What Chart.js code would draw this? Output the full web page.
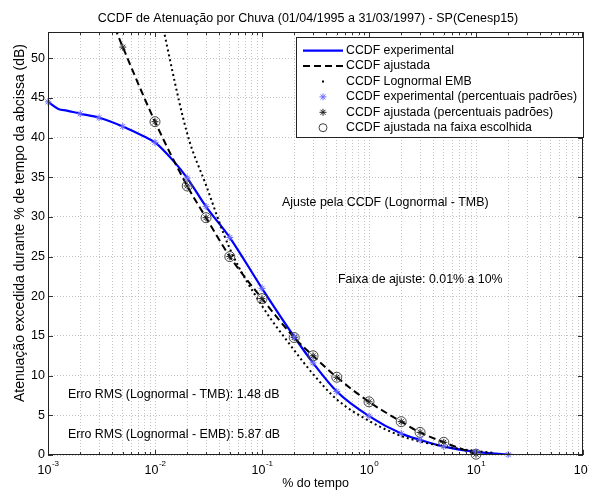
<!DOCTYPE html>
<html>
<head>
<meta charset="utf-8">
<script src="https://cdn.jsdelivr.net/npm/chart.js@4.4.1/dist/chart.umd.min.js"></script>
<style>
  html, body { margin: 0; padding: 0; background: #fff; }
  #wrap { width: 589px; height: 494px; }
</style>
</head>
<body>
<div id="wrap"><canvas id="ccdf" width="589" height="494"></canvas></div>
<script>
/* CCDF de atenuação - dados (percentual do tempo x atenuação em dB) */
// curva experimental
let expPct = [0.001, 0.00125, 0.0015, 0.002, 0.003, 0.005, 0.008, 0.01, 0.015, 0.02, 0.03, 0.05, 0.1, 0.2, 0.3, 0.5, 1, 2, 3, 5, 10, 20, 22.3];
let expAtt = [44.5, 43.6, 43.4, 43.0, 42.5, 41.4, 40.1, 39.4, 37.0, 34.9, 31.3, 27.4, 21.0, 14.9, 11.6, 8.0, 4.9, 2.7, 1.9, 1.05, 0.4, 0.05, 0];

// percentuais padrões
let stdPct = [0.001, 0.002, 0.003, 0.005, 0.01, 0.02, 0.03, 0.05, 0.1, 0.2, 0.3, 0.5, 1, 2, 3, 5, 10, 20];
let expStd = [44.5, 43.0, 42.5, 41.4, 39.4, 34.9, 31.3, 27.4, 21.0, 14.9, 11.6, 8.0, 4.9, 2.7, 1.9, 1.05, 0.4, 0.05];

// CCDF ajustada (lognormal - TMB)
let fitPct = [0.003, 0.004, 0.005, 0.01, 0.02, 0.03, 0.05, 0.1, 0.2, 0.3, 0.5, 1, 2, 3, 5, 10];
let fitAtt = [59.0, 54.6, 51.4, 42.0, 33.9, 29.9, 25.0, 19.7, 14.8, 12.5, 9.8, 6.7, 4.2, 2.85, 1.6, 0.1];

// CCDF lognormal EMB
let embPct = [0.008, 0.01, 0.02, 0.03, 0.05, 0.1, 0.2, 0.3, 0.5, 1, 2, 3, 5, 10, 15];
let embAtt = [64.0, 58.5, 40.5, 34.0, 26.0, 18.8, 13.2, 10.2, 7.0, 4.3, 2.4, 1.7, 1.1, 0.5, 0.25];

// faixa de ajuste escolhida
let faixa = [0.01, 10];

let xTicks = [];
for (let e = -3; e <= 1; e++) {
  for (let m = 1; m <= 9; m++) xTicks.push(m * Math.pow(10, e));
}
xTicks.push(100);
let yTicks = [0, 5, 10, 15, 20, 25, 30, 35, 40, 45, 50];
let yMax = 53.3;

const FONT = "'Liberation Sans', Arial, Helvetica, sans-serif";

function pts(xs, ys) {
  return xs.map((x, i) => ({ x: x, y: ys[i] }));
}

let fitStd = stdPct.filter(p => fitPct.includes(p) && p >= 0.005)
  .map(p => ({ x: p, y: fitAtt[fitPct.indexOf(p)] }));
let fitFaixa = fitPct.filter(p => p >= faixa[0] && p <= faixa[1])
  .map(p => ({ x: p, y: fitAtt[fitPct.indexOf(p)] }));

//-----------------------------------------------//
/* eixos, textos e legenda desenhados à mão */
//-----------------------------------------------//
const decor = {
  id: 'decor',
  afterDraw(chart) {
    const ctx = chart.ctx;
    const a = chart.chartArea;
    const xs = chart.scales.x, ys = chart.scales.y;
    ctx.save();

    // marcas dos eixos (para dentro)
    ctx.strokeStyle = '#333';
    ctx.lineWidth = 1;
    ctx.beginPath();
    xTicks.forEach(v => {
      const px = Math.round(xs.getPixelForValue(v)) + 0.5;
      const major = Math.abs(Math.log10(v) - Math.round(Math.log10(v))) < 1e-9;
      const len = major ? 5 : 3;
      ctx.moveTo(px, a.bottom); ctx.lineTo(px, a.bottom - len);
      ctx.moveTo(px, a.top); ctx.lineTo(px, a.top + len);
    });
    yTicks.forEach(v => {
      const py = Math.round(ys.getPixelForValue(v)) + 0.5;
      ctx.moveTo(a.left, py); ctx.lineTo(a.left + 5, py);
      ctx.moveTo(a.right, py); ctx.lineTo(a.right - 5, py);
    });
    ctx.stroke();

    // caixa
    ctx.strokeStyle = '#222';
    ctx.strokeRect(a.left + 0.5, a.top + 0.5, a.right - a.left - 1, a.bottom - a.top - 1);

    ctx.fillStyle = '#000';
    // rótulos do eixo y
    ctx.font = '12.5px ' + FONT;
    ctx.textAlign = 'right';
    ctx.textBaseline = 'middle';
    yTicks.forEach(v => ctx.fillText(String(v), a.left - 3, ys.getPixelForValue(v)));

    // rótulos do eixo x (10 com expoente)
    for (let e = -3; e <= 2; e++) {
      const px = xs.getPixelForValue(Math.pow(10, e));
      ctx.font = '12.5px ' + FONT;
      const wb = ctx.measureText('10').width;
      ctx.font = '8px ' + FONT;
      const we = ctx.measureText(String(e)).width;
      const x0 = px - (wb + we) / 2;
      ctx.textAlign = 'left';
      ctx.font = '12.5px ' + FONT;
      ctx.fillText('10', x0, a.bottom + 16);
      ctx.font = '8px ' + FONT;
      ctx.fillText(String(e), x0 + wb + 0.5, a.bottom + 9);
    }

    // títulos
    ctx.font = '12.5px ' + FONT;
    ctx.textAlign = 'center';
    ctx.fillText('CCDF de Atenuação por Chuva (01/04/1995 a 31/03/1997) - SP(Cenesp15)', 308, 18.5);
    ctx.fillText('% do tempo', (a.left + a.right) / 2, 484);
    ctx.save();
    ctx.font = '14px ' + FONT;
    ctx.translate(20, 223);
    ctx.rotate(-Math.PI / 2);
    ctx.fillText('Atenuação excedida durante % de tempo da abcissa (dB)', 0, 0);
    ctx.restore();

    // anotações
    ctx.font = '12.4px ' + FONT;
    ctx.textAlign = 'left';
    ctx.fillText('Ajuste pela CCDF (Lognormal - TMB)', 282, 203);
    ctx.fillText('Faixa de ajuste: 0.01% a 10%', 338, 280);
    ctx.fillText('Erro RMS (Lognormal - TMB): 1.48 dB', 68, 395);
    ctx.fillText('Erro RMS (Lognormal - EMB): 5.87 dB', 68, 435);

    // legenda
    const lx = 296, ly = 37, lw = 287, lh = 100;
    ctx.fillStyle = '#fff';
    ctx.fillRect(lx, ly, lw, lh);
    ctx.strokeStyle = '#222';
    ctx.strokeRect(lx + 0.5, ly + 0.5, lw, lh);
    const rows = [
      'CCDF experimental',
      'CCDF ajustada',
      'CCDF Lognormal EMB',
      'CCDF experimental (percentuais padrões)',
      'CCDF ajustada (percentuais padrões)',
      'CCDF ajustada na faixa escolhida'
    ];
    ctx.font = '12.3px ' + FONT;
    rows.forEach((t, i) => {
      const y = 50.7 + i * 15.4;
      ctx.fillStyle = '#000';
      ctx.fillText(t, 346, y);
      const ds = chart.data.datasets[i];
      ctx.save();
      if (i < 3) {
        ctx.strokeStyle = ds.borderColor;
        ctx.lineWidth = ds.borderWidth;
        if (i === 2) {
          ctx.fillStyle = '#000';
          ctx.fillRect(322, y - 1, 2, 2);
        } else {
          ctx.setLineDash(ds.borderDash || []);
          ctx.beginPath();
          ctx.moveTo(303, y); ctx.lineTo(343, y);
          ctx.stroke();
        }
      } else {
        ctx.strokeStyle = ds.pointBorderColor;
        ctx.fillStyle = ds.pointBackgroundColor;
        ctx.lineWidth = ds.pointBorderWidth || 1;
        Chart.helpers.drawPoint(ctx, {
          pointStyle: ds.pointStyle,
          radius: ds.pointStyle === 'circle' ? 4 : ds.pointRadius,
          borderWidth: 1,
          rotation: 0
        }, 323, y);
      }
      ctx.restore();
    });

    ctx.restore();
  }
};

const ctx = document.getElementById('ccdf').getContext('2d');
const chart = new Chart(ctx, {
  type: 'scatter',
  data: {
    datasets: [
      {
        label: 'CCDF experimental',
        data: pts(expPct, expAtt),
        showLine: true,
        borderColor: '#0000ff',
        borderWidth: 2.2,
        pointRadius: 0,
        cubicInterpolationMode: 'monotone',
        clip: 0,
        order: 3,
      },
      {
        label: 'CCDF ajustada',
        data: pts(fitPct, fitAtt),
        showLine: true,
        borderColor: '#000',
        borderWidth: 2,
        borderDash: [7, 4],
        pointRadius: 0,
        cubicInterpolationMode: 'monotone',
        clip: 0,
        order: 2,
      },
      {
        label: 'CCDF Lognormal EMB',
        data: pts(embPct, embAtt),
        showLine: true,
        borderColor: '#000',
        borderWidth: 2,
        borderDash: [2, 3],
        pointRadius: 0,
        cubicInterpolationMode: 'monotone',
        clip: 0,
        order: 1,
      },
      {
        label: 'CCDF experimental (percentuais padrões)',
        data: pts(stdPct, expStd),
        showLine: false,
        pointStyle: 'star',
        pointRadius: 3.5,
        pointBorderWidth: 1,
        pointBorderColor: '#6a6aff',
        pointBackgroundColor: '#6a6aff',
        clip: 3,
      },
      {
        label: 'CCDF ajustada (percentuais padrões)',
        data: fitStd,
        showLine: false,
        pointStyle: 'star',
        pointRadius: 3.5,
        pointBorderWidth: 1,
        pointBorderColor: '#222',
        pointBackgroundColor: '#222',
        clip: 3,
      },
      {
        label: 'CCDF ajustada na faixa escolhida',
        data: fitFaixa,
        showLine: false,
        pointStyle: 'circle',
        pointRadius: 5,
        pointBorderWidth: 1,
        pointBorderColor: '#444',
        pointBackgroundColor: 'rgba(0,0,0,0)',
        clip: 6,
      },
    ],
  },
  options: {
    responsive: false,
    animation: false,
    layout: { padding: { left: 48, top: 32, right: 4, bottom: 39 } },
    plugins: {
      legend: { display: false },
      tooltip: { enabled: false },
    },
    scales: {
      x: {
        type: 'logarithmic',
        min: 0.001,
        max: 100,
        afterBuildTicks: (s) => { s.ticks = xTicks.map(v => ({ value: v })); },
        ticks: { display: false },
        grid: { color: '#c4c4c4', lineWidth: 1, drawTicks: false },
        border: { display: false, dash: [1, 2] },
      },
      y: {
        min: 0,
        max: yMax,
        afterBuildTicks: (s) => { s.ticks = yTicks.map(v => ({ value: v })); },
        ticks: { display: false },
        grid: { color: '#c4c4c4', lineWidth: 1, drawTicks: false },
        border: { display: false, dash: [1, 2] },
      },
    },
  },
  plugins: [decor],
});
</script>
</body>
</html>
